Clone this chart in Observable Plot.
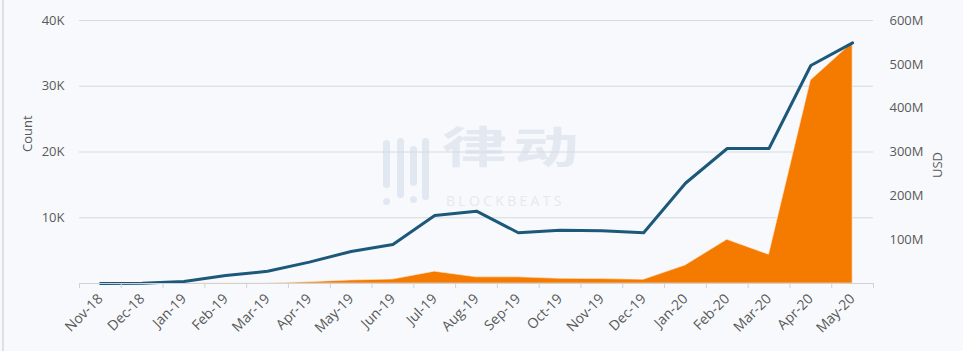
<!DOCTYPE html>
<html>
<head>
<meta charset="utf-8">
<script src="https://cdn.jsdelivr.net/npm/d3@7"></script>
<script src="https://cdn.jsdelivr.net/npm/@observablehq/plot@0.6"></script>
<style>
  html, body { margin: 0; padding: 0; background: #f7f9fc; }
  #wrap { position: relative; width: 963px; height: 351px; overflow: hidden; background: #f7f9fc; }
  #edge { position: absolute; left: 2px; top: 0; width: 2px; height: 351px; background: #dde1e7; }
  #wm { position: absolute; left: 380px; top: 136px; color: #e4e9f1; font-family: "Noto Sans CJK SC", sans-serif; }
  #wm .cn { position: absolute; left: 62px; top: -14px; font-size: 62px; font-weight: 700; line-height: 62px; letter-spacing: 6px; white-space: nowrap; transform: scale(1.05, 0.7); transform-origin: left top; }
  #wm .en { position: absolute; left: 66px; top: 58px; font-family: "Open Sans", sans-serif; font-size: 14px; line-height: 14px; letter-spacing: 3.3px; white-space: nowrap; }
  #wm .bar { position: absolute; width: 7px; border-radius: 4px; background: #e2e8f1; }
  #wm .dot { position: absolute; width: 7px; height: 7px; border-radius: 4px; background: #e2e8f1; }
  #chart { position: absolute; left: 0; top: 0; }
</style>
</head>
<body>
<div id="wrap">
  <div id="edge"></div>
  <div id="wm">
    <div class="bar" style="left:3px;top:4px;height:48px"></div>
    <div class="dot" style="left:3px;top:62px"></div>
    <div class="bar" style="left:17px;top:2px;height:60px"></div>
    <div class="bar" style="left:30px;top:10px;height:40px"></div>
    <div class="dot" style="left:30px;top:60px"></div>
    <div class="bar" style="left:42px;top:2px;height:62px"></div>
    <div class="cn">律动</div>
    <div class="en">BLOCKBEATS</div>
  </div>
  <div id="chart"></div>
</div>
<script>
const months = ["Nov-18","Dec-18","Jan-19","Feb-19","Mar-19","Apr-19","May-19","Jun-19","Jul-19","Aug-19","Sep-19","Oct-19","Nov-19","Dec-19","Jan-20","Feb-20","Mar-20","Apr-20","May-20"];
const counts = [0, 50, 300, 1200, 1870, 3250, 4870, 5930, 10340, 11000, 7720, 8100, 8010, 7720, 15250, 20530, 20530, 33160, 36600];
const usdMillions = [0, 0, 0, 0, 0, 3, 7, 9, 27, 14, 14, 10.6, 10, 8.4, 41, 99.7, 65.5, 463, 549];
const countTicks = [10000, 20000, 30000, 40000];
const usdTicksM = [100, 200, 300, 400, 500, 600];

const countMax = 40000, usdMax = 600e6;
const k = countMax / usdMax;
const data = months.map((m, i) => ({month: m, count: counts[i], usd: usdMillions[i] * 1e6}));

const W = 963, H = 351, ML = 79, MR = 90, MT = 20, MB = 68;
const step = (W - ML - MR) / months.length;
const textColor = "#595959";

const chart = Plot.plot({
  width: W, height: H,
  marginLeft: ML, marginRight: MR, marginTop: MT, marginBottom: MB,
  style: {background: "transparent", fontFamily: "'Open Sans', sans-serif", fontSize: "13px", color: textColor},
  x: {type: "point", domain: months, padding: 0.5, round: false, label: null},
  y: {domain: [0, countMax], label: null},
  marks: [
    Plot.gridY(countTicks, {stroke: "#d6dae1", strokeOpacity: 1}),
    Plot.areaY(data, {x: "month", y: d => d.usd * k, fill: "#f57b00", stroke: "#fde8d2", strokeWidth: 0.6}),
    Plot.lineY(data, {x: "month", y: "count", stroke: "#1c5879", strokeWidth: 3, strokeLinejoin: "round"}),
    Plot.ruleY([0], {stroke: "#cfd3d9"}),
    Plot.ruleX(months, {x: d => d, dx: -step / 2, insetTop: H - MT - MB, insetBottom: -5, stroke: "#cfd3d9"}),
    Plot.ruleX([months[months.length - 1]], {x: d => d, dx: step / 2, insetTop: H - MT - MB, insetBottom: -5, stroke: "#cfd3d9"}),
    Plot.axisX({tickSize: 0, tickPadding: 13, tickRotate: -45, fontSize: 14, fill: textColor, label: null}),
    Plot.axisY(countTicks, {anchor: "left", tickSize: 0, tickPadding: 15, fontSize: 13, tickFormat: d => d / 1000 + "K", fill: textColor, label: null}),
    Plot.axisY(usdTicksM.map(v => v * 1e6 * k), {anchor: "right", tickSize: 0, tickPadding: 16, fontSize: 13, textAnchor: "start", tickFormat: v => Math.round(v / k / 1e6) + "M", fill: textColor, label: null}),
    Plot.text(["Count"], {frameAnchor: "left", dx: -52, rotate: -90, fill: textColor, fontSize: 13}),
    Plot.text(["USD"], {frameAnchor: "right", dx: 64, rotate: -90, fill: textColor, fontSize: 13})
  ]
});
document.getElementById("chart").appendChild(chart);
</script>
</body>
</html>
